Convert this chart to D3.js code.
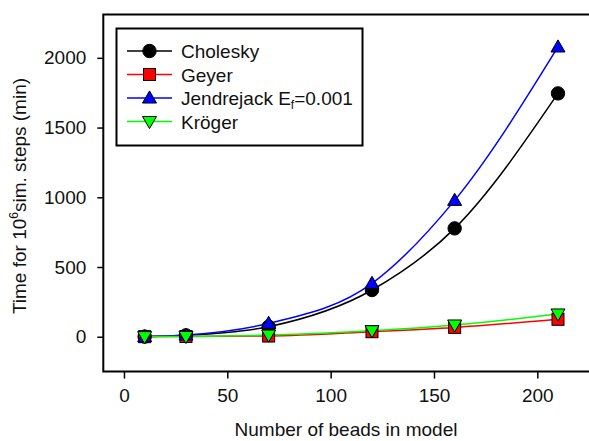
<!DOCTYPE html>
<html>
<head>
<meta charset="utf-8">
<script src="https://cdn.jsdelivr.net/npm/d3@7"></script>
<style>
  body { margin: 0; background: #fff; }
  text { font-family: Arial, "Liberation Sans", sans-serif; }
</style>
</head>
<body>
<div id="chart"></div>
<script>
// beads in model
const beads = [10, 30, 70, 120, 160, 210];

// time for 10^6 steps (min)
const cholesky = [1, 10, 72, 335, 777, 1745];
const geyer = [0.5, 2, 5, 36, 67, 125];
const jendrejack = [1, 12, 96, 383, 978, 2078];
const kroger = [0.5, 2, 12, 43, 84, 163];

const seriesNames = ['Cholesky', 'Geyer', 'Jendrejack', 'Kröger'];
const xTicks = [0, 50, 100, 150, 200];
const yTicks = [0, 500, 1000, 1500, 2000];

const width = 589;
const height = 441;

const series = [
  { name: seriesNames[0], values: cholesky, color: '#000000', shape: 'circle' },
  { name: seriesNames[1], values: geyer, color: '#ff0000', shape: 'square' },
  { name: seriesNames[2], values: jendrejack, color: '#0000ff', shape: 'up' },
  { name: seriesNames[3], values: kroger, color: '#00ff00', shape: 'down' }
];

const x = d3.scaleLinear().domain([-10, 240]).range([103.3, 620]);
const y = d3.scaleLinear().domain([-250, 2310]).range([371.6, 14.6]);

const svg = d3.select('#chart')
  .append('svg')
  .attr('width', width)
  .attr('height', height);

function marker(g, shape, color, cx, cy) {
  if (shape === 'circle') {
    g.append('circle').attr('cx', cx).attr('cy', cy).attr('r', 6.7)
      .attr('fill', color).attr('stroke', '#000').attr('stroke-width', 1);
  } else if (shape === 'square') {
    g.append('rect').attr('x', cx - 6).attr('y', cy - 6)
      .attr('width', 12).attr('height', 12)
      .attr('fill', color).attr('stroke', '#000').attr('stroke-width', 1);
  } else {
    const sym = d3.symbol().type(d3.symbolTriangle).size(85);
    g.append('path')
      .attr('d', sym())
      .attr('transform', `translate(${cx},${cy + (shape === 'down' ? -1 : 1)}) rotate(${shape === 'down' ? 180 : 0})`)
      .attr('fill', color).attr('stroke', '#000').attr('stroke-width', 1);
  }
}

// Axes (ticks only; frame drawn separately)
const yAxis = svg.append('g')
  .attr('transform', `translate(${x.range()[0]},0)`)
  .call(d3.axisLeft(y).tickValues(yTicks).tickFormat(d3.format('d'))
    .tickSize(6).tickSizeOuter(0).tickPadding(11));
const xAxis = svg.append('g')
  .attr('transform', `translate(0,${y.range()[0]})`)
  .call(d3.axisBottom(x).tickValues(xTicks).tickFormat(d3.format('d'))
    .tickSize(7).tickSizeOuter(0).tickPadding(10));

[yAxis, xAxis].forEach(ax => {
  ax.select('.domain').remove();
  ax.selectAll('.tick line').attr('stroke', '#000').attr('stroke-width', 1.5);
  ax.selectAll('.tick text')
    .attr('fill', '#111')
    .attr('font-size', 19)
    .style('font-family', 'Arial, "Liberation Sans", sans-serif');
});

// Frame: left, top, bottom (runs off the right edge)
const x0 = x.range()[0];
const yb = y.range()[0];
const yt = y.range()[1];
svg.append('path')
  .attr('d', `M${width + 5},${yt}H${x0}V${yb}H${width + 5}`)
  .attr('fill', 'none')
  .attr('stroke', '#000')
  .attr('stroke-width', 2);

// Series
const line = d3.line()
  .x((d, i) => x(beads[i]))
  .y(d => y(d))
  .curve(d3.curveMonotoneX);

series.forEach(s => {
  svg.append('path')
    .datum(s.values)
    .attr('fill', 'none')
    .attr('stroke', s.color)
    .attr('stroke-width', 1.5)
    .attr('d', line);
});
series.forEach(s => {
  const g = svg.append('g');
  s.values.forEach((v, i) => marker(g, s.shape, s.color, x(beads[i]), y(v)));
});

// Legend
const legend = svg.append('g');
legend.append('rect')
  .attr('x', 116.5).attr('y', 28.5)
  .attr('width', 246).attr('height', 117)
  .attr('fill', '#fff').attr('stroke', '#000').attr('stroke-width', 2);

series.forEach((s, i) => {
  const ly = 51 + i * 23.5;
  legend.append('line')
    .attr('x1', 127).attr('x2', 172).attr('y1', ly).attr('y2', ly)
    .attr('stroke', s.color).attr('stroke-width', 1.5);
  marker(legend, s.shape, s.color, 149.5, ly);
  const t = legend.append('text')
    .attr('x', 181).attr('y', ly + 7)
    .attr('font-size', 19)
    .attr('fill', '#111');
  if (s.name === 'Jendrejack') {
    t.append('tspan').text('Jendrejack E');
    t.append('tspan').attr('font-size', 12).attr('dy', 4).text('f');
    t.append('tspan').attr('dy', -4).text('=0.001');
  } else {
    t.text(s.name);
  }
});

// Axis titles
svg.append('text')
  .attr('x', 346).attr('y', 436)
  .attr('text-anchor', 'middle')
  .attr('font-size', 19)
  .attr('fill', '#111')
  .text('Number of beads in model');

const yTitle = svg.append('text')
  .attr('transform', 'translate(26,196) rotate(-90)')
  .attr('text-anchor', 'middle')
  .attr('font-size', 19)
  .attr('fill', '#111');
yTitle.append('tspan').text('Time for 10');
yTitle.append('tspan').attr('font-size', 12).attr('dy', -8).text('6');
yTitle.append('tspan').attr('dy', 8).text('sim. steps (min)');
</script>
</body>
</html>
